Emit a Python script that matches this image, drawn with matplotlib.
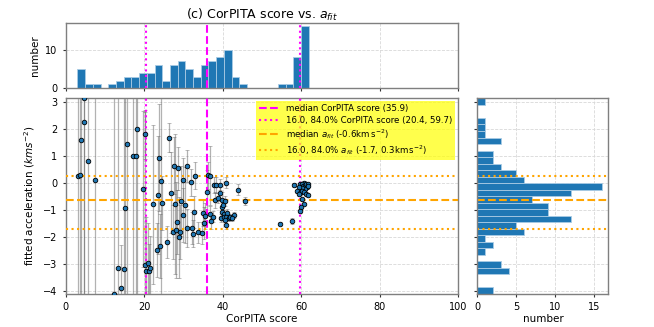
import numpy as np
import matplotlib.pyplot as plt

# CorPITA score / fitted acceleration (km s^-2) / error on fit
score = [3.06, 3.7, 4.0, 4.7, 4.75, 5.7, 7.4, 12.3, 13.2, 14.2,
         14.8, 15.1, 15.6, 17.2, 17.8, 18.1, 19.6, 20.1, 20.3, 20.4,
         21.0, 21.3, 21.5, 22.2, 23.2, 23.4, 23.8, 23.9, 24.4, 24.5,
         25.7, 26.4, 26.8, 27.3, 27.5, 27.95, 28.0, 28.3, 28.6, 28.9,
         29.1, 29.4, 29.8, 29.9, 30.4, 30.8, 31.0, 31.9, 32.1, 32.4,
         32.6, 33.05, 33.7, 34.75, 34.9, 35.3, 35.5, 36.1, 36.3,
         # cluster around 40
         36.8, 40.8, 37.7, 38.3, 39.4, 39.3, 43.9, 38.0, 38.7, 39.7,
         40.6, 45.7, 39.8, 40.1, 36.8, 39.9, 40.4, 41.2, 42.9, 36.96,
         37.5, 39.6, 40.35, 40.95, 41.5, 40.5, 41.9, 42.5, 40.9,
         # isolated
         54.6, 57.6,
         # cluster around 60
         60.6, 58.2, 59.8, 60.2, 60.5, 60.9, 61.3, 61.8, 61.6, 61.0,
         60.3, 59.5, 61.85, 59.0, 59.7, 60.1, 60.7, 61.2, 61.7, 59.4,
         60.3, 60.7, 59.9, 59.6]
afit = [0.27, 0.30, 1.62, 3.15, 2.28, 0.82, 0.11, -4.11, -3.14, -3.91,
        -3.20, -0.92, 1.47, 1.02, 1.02, 2.02, -0.20, -3.06, 1.81, -3.25,
        -2.97, -3.28, -3.17, -0.79, -2.49, -0.44, 0.95, -2.34, 0.09, -0.74,
        -2.20, 1.69, -0.35, -1.81, 0.65, -0.77, -1.74, -1.44, 0.55, -2.01,
        -1.81, -0.65, 0.13, -1.18, -0.81, 0.65, -1.66, 0.03, -1.66, -1.88,
        -1.06, 0.27, -1.83, -1.86, -1.11, -1.49, -1.22, -0.32, 0.30,
        0.27, 0.02, -0.06, -0.08, -0.06, -0.36, -0.25, -0.63, -0.55, -0.62,
        -0.66, -0.65, -0.90, -0.80, -1.16, -1.08, -1.15, -1.10, -1.18, -1.40,
        -1.25, -1.30, -1.25, -1.27, -1.31, -1.38, -1.26, -1.30, -1.57,
        -1.50, -1.40,
        0.02, -0.06, -0.05, -0.02, -0.12, -0.08, -0.03, -0.05, -0.15, -0.20,
        -0.18, -0.15, -0.10, -0.30, -0.36, -0.28, -0.33, -0.40, -0.45, -0.42,
        -0.60, -0.78, -0.90, -1.03]
afit_err = [8, 8, 8, 8, 8, 8, 8, 8, 8, 1.6,
            8, 8, 8, 8, 8, 8, 2.9, 5.7, 0.9, 2.0,
            1.5, 1.0, 1.2, 2.95, 1.0, 2.2, 2.0, 1.2, 8, 1.0,
            0.6, 0.55, 1.5, 1.0, 1.05, 2.6, 1.8, 1.2, 0.8, 1.5,
            1.0, 1.3, 0.8, 1.0, 1.4, 0.6, 0.7, 0.5, 0.6, 0.5,
            0.6, 0.5, 0.4, 0.4, 0.5, 0.6, 0.5, 0.8, 0.5,
            1.1, 0.2, 0.3, 0.3, 0.2, 0.3, 0.2, 0.3, 0.2, 0.3,
            0.2, 0.15, 0.3, 0.2, 0.3, 0.2, 0.15, 0.15, 0.1, 0.3,
            0.2, 0.15, 0.15, 0.1, 0.1, 0.15, 0.1, 0.1, 0.15,
            0.05, 0.1,
            0.05, 0.08, 0.05, 0.05, 0.05, 0.05, 0.05, 0.05, 0.05, 0.05,
            0.05, 0.05, 0.05, 0.05, 0.05, 0.05, 0.05, 0.05, 0.05, 0.05,
            0.05, 0.05, 0.08, 0.08]

# histogram counts (30 bins each)
score_counts = [5, 1, 1, 0, 1, 2, 3, 3, 4, 4, 6, 2, 6, 7, 5, 3, 6, 7, 8, 10,
                3, 1, 0, 0, 0, 0, 1, 1, 8, 16]
afit_counts = [2, 0, 0, 4, 3, 0, 1, 2, 1, 6, 5, 12, 9, 9, 7, 12, 16, 6, 5, 3,
               2, 2, 0, 3, 1, 1, 1, 0, 0, 1]  # bottom to top

score_median, score_p16, score_p84 = 35.9, 20.4, 59.7
afit_median, afit_p16, afit_p84 = -0.62, -1.72, 0.27

score_edges = np.linspace(3.0, 61.9, len(score_counts) + 1)
afit_edges = np.linspace(-4.12, 3.15, len(afit_counts) + 1)
ylim = (-4.12, 3.15)

plt.rcParams["font.size"] = 7
fig = plt.figure(figsize=(6.54, 3.27), dpi=100)
ax_top = fig.add_axes([0.1005, 0.730, 0.600, 0.199])
ax = fig.add_axes([0.1005, 0.101, 0.600, 0.598])
ax_r = fig.add_axes([0.730, 0.101, 0.2003, 0.598])

bar_kw = dict(color="#1f77b4", edgecolor="#a9cbe4", linewidth=0.6)

for a in (ax_top, ax, ax_r):
    a.grid(True, color="#d8d8d8", linestyle="--", linewidth=0.6)
    a.set_axisbelow(True)
    for s in a.spines.values():
        s.set_color("#7f7f7f")
        s.set_linewidth(1.0)
    a.tick_params(length=2.5, width=0.8, colors="#333333", labelcolor="black",
                  labelsize=7)

# top histogram
ax_top.bar(score_edges[:-1], score_counts, width=np.diff(score_edges),
           align="edge", **bar_kw)
ax_top.axvline(score_median, color="magenta", ls="--", lw=1.5)
ax_top.axvline(score_p16, color="magenta", ls=":", lw=1.5)
ax_top.axvline(score_p84, color="magenta", ls=":", lw=1.5)
ax_top.set_xlim(0, 100)
ax_top.set_ylim(0, 16.8)
ax_top.set_yticks([0, 10])
ax_top.set_xticks([0, 20, 40, 60, 80, 100])
ax_top.tick_params(labelbottom=False)
ax_top.set_ylabel("number", fontsize=7.5)
ax_top.set_title("(c) CorPITA score vs. $a_{fit}$", fontsize=9, pad=3)

# main scatter with error bars
ax.errorbar(score, afit, yerr=afit_err, fmt="none", ecolor="#555555",
            elinewidth=0.9, capsize=1.2, capthick=0.6, alpha=0.45, zorder=2)
ax.plot(score, afit, "o", ms=3.3, mfc="#1f77b4", mec="black", mew=0.6,
        zorder=4)
ax.axvline(score_median, color="magenta", ls="--", lw=1.5, zorder=3,
           label=f"median CorPITA score ({score_median:.1f})")
ax.axvline(score_p16, color="magenta", ls=":", lw=1.5, zorder=3,
           label=f"16.0, 84.0% CorPITA score ({score_p16:.1f}, {score_p84:.1f})")
ax.axvline(score_p84, color="magenta", ls=":", lw=1.5, zorder=3)
ax.axhline(afit_median, color="orange", ls="--", lw=1.5, zorder=3,
           label=r"median $a_{fit}$ (-0.6km$\,$s$^{-2}$)")
ax.axhline(afit_p16, color="orange", ls=":", lw=1.5, zorder=3,
           label=r"16.0, 84.0% $a_{fit}$ (-1.7, 0.3km$\,$s$^{-2}$)")
ax.axhline(afit_p84, color="orange", ls=":", lw=1.5, zorder=3)
ax.set_xlim(0, 100)
ax.set_ylim(*ylim)
ax.set_xticks([0, 20, 40, 60, 80, 100])
ax.set_yticks([-4, -3, -2, -1, 0, 1, 2, 3])
ax.set_xlabel("CorPITA score", fontsize=7.5, labelpad=1)
ax.set_ylabel("fitted acceleration ($kms^{-2}$)", fontsize=7.5)
leg = ax.legend(loc="upper right", fontsize=6.2, facecolor="yellow",
                framealpha=0.7, edgecolor="none", fancybox=False,
                borderaxespad=0.35, handlelength=2.3, labelspacing=0.25,
                borderpad=0.35)

# right histogram
ax_r.barh(afit_edges[:-1], afit_counts, height=np.diff(afit_edges),
          align="edge", **bar_kw)
ax_r.axhline(afit_median, color="orange", ls="--", lw=1.5)
ax_r.axhline(afit_p16, color="orange", ls=":", lw=1.5)
ax_r.axhline(afit_p84, color="orange", ls=":", lw=1.5)
ax_r.set_ylim(*ylim)
ax_r.set_xlim(0, 16.8)
ax_r.set_yticks([-4, -3, -2, -1, 0, 1, 2, 3])
ax_r.set_xticks([0, 5, 10, 15])
ax_r.tick_params(labelleft=False)
ax_r.set_xlabel("number", fontsize=7.5, labelpad=1)

fig.savefig("out.png", dpi=100)
